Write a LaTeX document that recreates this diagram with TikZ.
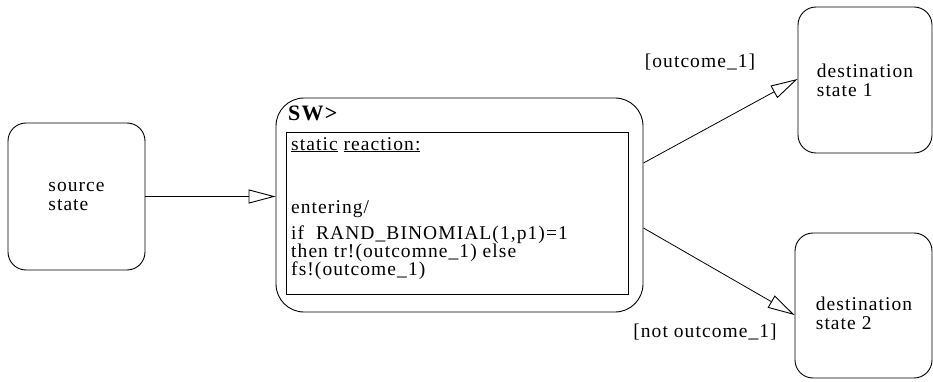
\documentclass[tikz,border=0pt]{standalone}
\usepackage{fontspec}
\setmainfont{Liberation Serif}[LetterSpace=5.5]
\usetikzlibrary{arrows.meta}
\begin{document}
\begin{tikzpicture}[x=1pt,y=-1pt,
  every node/.style={font=\fontsize{19.5}{19}\selectfont, inner sep=0pt},
  statebox/.style={draw, line width=0.9pt, rounded corners=18pt},
  arr/.style={line width=0.8pt, -{Triangle[open, length=27pt, width=14pt, line width=0.9pt]}},
  txt/.style={anchor=base west}]
\useasboundingbox (0,0) rectangle (933,382);
% states
\node[statebox, minimum width=137pt, minimum height=147pt, align=left] (src) at (76.5,196.5) {source\\state};
\node[statebox, rounded corners=28pt, minimum width=367pt, minimum height=214pt] (sw) at (459.5,205) {};
\node[draw, line width=0.9pt, minimum width=342pt, minimum height=162pt] (inner) at (457,213) {};
\node[statebox, minimum width=134pt, minimum height=146pt, align=left] (d1) at (865,80) {destination\\state 1};
\node[statebox, minimum width=137pt, minimum height=145pt] (d2) at (863.5,305.5) {};
\node[align=left] (d2t) at (864,313) {destination\\state 2};
% SW label and reaction text
\node[txt, font=\fontsize{22}{22}\selectfont\bfseries] (swl) at (288,121) {SW>};
\node[txt] (t0) at (291,150) {\underline{static} \underline{reaction:}};
\node[txt] (t1) at (291,213) {entering/};
\node[txt] (t2) at (291,239) {if\ \ RAND\_BINOMIAL(1,p1)=1};
\node[txt] (t3) at (291,257) {then tr!(outcomne\_1) else};
\node[txt] (t4) at (291,275) {fs!(outcome\_1)};
% transitions
\draw[arr] (src.east) -- (sw.west |- src.east);
\draw[arr] ([yshift=42pt]sw.east) -- ([yshift=1pt]d1.west);
\draw[arr] ([yshift=-23pt]sw.east) -- ([yshift=-9.5pt]d2.west);
\node (l1) at (700,62) {[outcome\_1]};
\node (l2) at (705,332) {[not outcome\_1]};
\end{tikzpicture}
\end{document}
